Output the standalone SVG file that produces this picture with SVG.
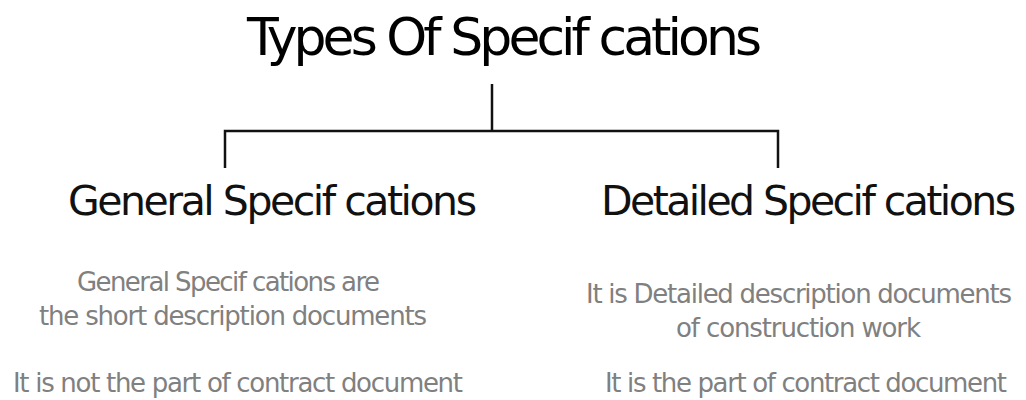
<svg xmlns="http://www.w3.org/2000/svg" width="1026" height="400" viewBox="0 0 1026 400">
<style>
text{font-family:"DejaVu Sans","Liberation Sans",sans-serif;}
.title{font-size:52px;fill:#000;}
.sub{font-size:41px;fill:#111;}
.desc{font-size:26px;fill:#808080;}
.conn{stroke:#111;stroke-width:2.5;fill:none;}
</style>
<rect width="1026" height="400" fill="#fff"/>
<g id="connectors">
<path class="conn" d="M492 84 V131"/>
<path class="conn" d="M225 168 V131 H778 V168"/>
</g>
<g id="root">
<text class="title" x="247" y="55" textLength="515" lengthAdjust="spacing">Types Of Specif cations</text>
</g>
<g id="general">
<text class="sub" x="68" y="215" textLength="409" lengthAdjust="spacing">General Specif cations</text>
<text class="desc" x="77" y="291" textLength="303" lengthAdjust="spacing">General Specif cations are</text>
<text class="desc" x="39" y="325" textLength="388" lengthAdjust="spacing">the short description documents</text>
<text class="desc" x="13" y="392" textLength="450" lengthAdjust="spacing">It is not the part of contract document</text>
</g>
<g id="detailed">
<text class="sub" x="601" y="215" textLength="415" lengthAdjust="spacing">Detailed Specif cations</text>
<text class="desc" x="586" y="303" textLength="426" lengthAdjust="spacing">It is Detailed description documents</text>
<text class="desc" x="676" y="337" textLength="245" lengthAdjust="spacing">of construction work</text>
<text class="desc" x="605" y="392" textLength="402" lengthAdjust="spacing">It is the part of contract document</text>
</g>
</svg>
